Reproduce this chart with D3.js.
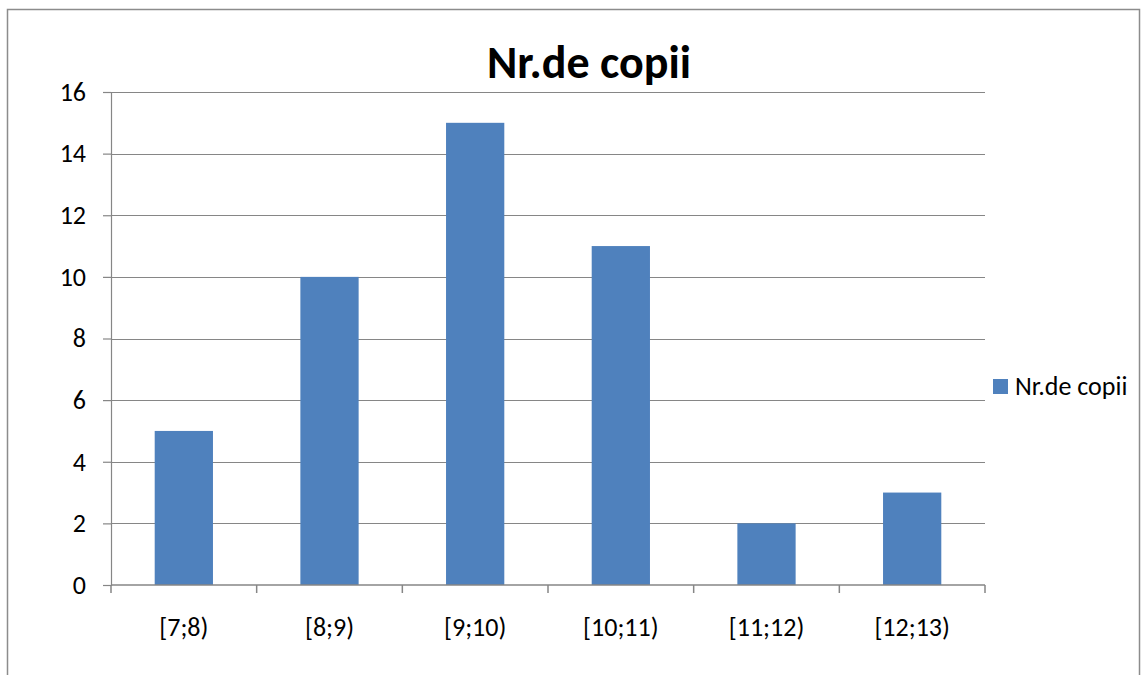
<!DOCTYPE html>
<html>
<head>
<meta charset="utf-8">
<script src="https://cdn.jsdelivr.net/npm/d3@7"></script>
<style>
  body { margin: 0; background: #fff; }
  svg { display: block; font-family: Carlito, Lato, "Liberation Sans", sans-serif; }
</style>
</head>
<body>
<div id="chart"></div>
<script>
// data
const categories = ["[7;8)", "[8;9)", "[9;10)", "[10;11)", "[11;12)", "[12;13)"];
const values = [5, 10, 15, 11, 2, 3];
const yTicks = [0, 2, 4, 6, 8, 10, 12, 14, 16];
const seriesName = "Nr.de copii";

const width = 1148;
const height = 675;
const margin = { top: 92, right: 163, bottom: 90, left: 111 };
const barColor = "#4F81BD";
const gridColor = "#868686";
const labelSize = 26;

const svg = d3.select("#chart")
  .append("svg")
  .attr("width", width)
  .attr("height", height);

// outer chart border
svg.append("rect")
  .attr("x", 7.5).attr("y", 9.5)
  .attr("width", 1132).attr("height", 700)
  .attr("fill", "none")
  .attr("stroke", "#8c8c8c")
  .attr("stroke-width", 1.5);

const x = d3.scaleBand()
  .domain(categories)
  .range([margin.left, width - margin.right])
  .paddingInner(0.6)
  .paddingOuter(0.3);

const y = d3.scaleLinear()
  .domain([0, 16])
  .range([height - margin.bottom, margin.top]);

// gridlines
svg.append("g")
  .selectAll("line")
  .data(yTicks.filter(d => d > 0))
  .join("line")
  .attr("x1", margin.left)
  .attr("x2", width - margin.right)
  .attr("y1", d => Math.round(y(d)) + 0.5)
  .attr("y2", d => Math.round(y(d)) + 0.5)
  .attr("stroke", gridColor)
  .attr("stroke-width", 1.2);

// bars
svg.append("g")
  .selectAll("rect")
  .data(values)
  .join("rect")
  .attr("x", (d, i) => x(categories[i]))
  .attr("y", d => y(d))
  .attr("width", x.bandwidth())
  .attr("height", d => y(0) - y(d))
  .attr("fill", barColor);

// y axis
const yAxis = svg.append("g")
  .attr("transform", `translate(${margin.left},0)`)
  .call(d3.axisLeft(y).tickValues(yTicks).tickSize(8).tickPadding(17));
yAxis.selectAll("line, path").attr("stroke", gridColor).attr("stroke-width", 1.2);
yAxis.selectAll("text")
  .attr("font-size", labelSize)
  .attr("fill", "#000")
  .attr("font-family", "Carlito, Lato, 'Liberation Sans', sans-serif");

// x axis: ticks between categories
const step = x.step();
const boundaries = d3.range(categories.length + 1).map(i => margin.left + i * step);
const xAxis = svg.append("g");
xAxis.append("line")
  .attr("x1", margin.left).attr("x2", width - margin.right)
  .attr("y1", y(0)).attr("y2", y(0))
  .attr("stroke", gridColor).attr("stroke-width", 1.5);
xAxis.selectAll("line.tick")
  .data(boundaries)
  .join("line")
  .attr("class", "tick")
  .attr("x1", d => d).attr("x2", d => d)
  .attr("y1", y(0)).attr("y2", y(0) + 8)
  .attr("stroke", gridColor).attr("stroke-width", 1.5);
xAxis.selectAll("text")
  .data(categories)
  .join("text")
  .attr("x", d => x(d) + x.bandwidth() / 2)
  .attr("y", y(0) + 51)
  .attr("text-anchor", "middle")
  .attr("font-size", labelSize)
  .text(d => d);

// title
svg.append("text")
  .attr("x", (margin.left + width - margin.right) / 2 + 41)
  .attr("y", 78)
  .attr("text-anchor", "middle")
  .attr("font-size", 46)
  .attr("font-weight", "bold")
  .text(seriesName);

// legend
const legend = svg.append("g").attr("transform", "translate(993,379)");
legend.append("rect").attr("width", 15).attr("height", 15).attr("fill", barColor);
legend.append("text").attr("x", 22).attr("y", 16).attr("font-size", labelSize).text(seriesName);
</script>
</body>
</html>
